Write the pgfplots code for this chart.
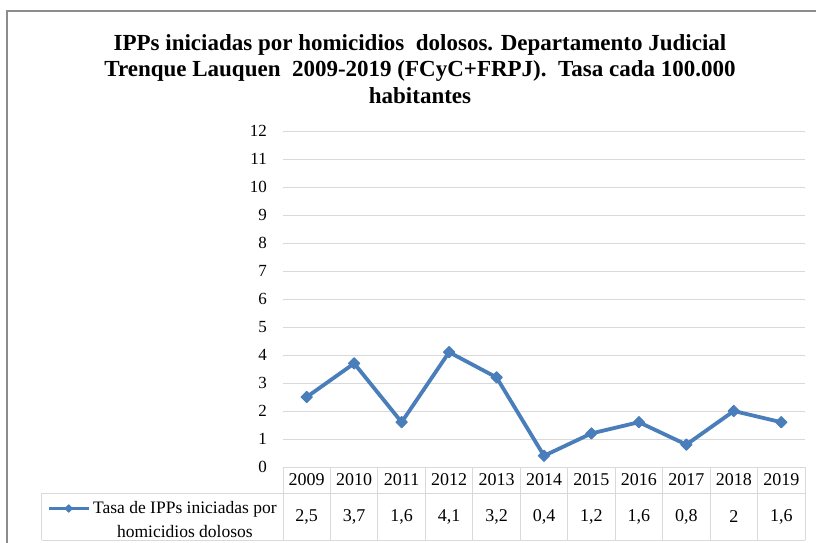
\documentclass[border=0pt]{standalone}
\usepackage{fontspec}
\setmainfont{Liberation Serif}
\usepackage{pgfplots}
\pgfplotsset{compat=1.18}
\definecolor{serie}{HTML}{4A7EBB}
\definecolor{gridc}{HTML}{D9D9D9}
\definecolor{borderc}{HTML}{8C8C8C}
\newcommand{\tabfont}{\fontsize{17}{20}\selectfont}
\newcommand{\valfont}{\fontsize{18}{20}\selectfont}
\begin{document}
\begin{tikzpicture}
\useasboundingbox (0,0) rectangle (816pt,-543pt);
\draw[borderc, line width=1.1pt] (7pt,-560pt) -- (7pt,-11pt) -- (830pt,-11pt);
\node[font=\bfseries\fontsize{23}{26.5}\selectfont, align=center, inner sep=0pt] at (420pt,-69pt)
 {IPPs iniciadas por homicidios\ \ dolosos. Departamento Judicial\\
  Trenque Lauquen\ \ 2009-2019 (FCyC+FRPJ).\ \ Tasa cada 100.000\\
  habitantes};
\begin{axis}[
  at={(283pt,-467pt)}, anchor=south west,
  scale only axis, width=522pt, height=336pt,
  xmin=-0.5, xmax=10.5, ymin=0, ymax=12,
  axis line style={draw=none},
  ytick={0,1,...,12}, xtick={0,1,...,10},
  xticklabels={2009,2010,2011,2012,2013,2014,2015,2016,2017,2018,2019},
  major tick length=0pt,
  ymajorgrids, grid style={gridc, line width=1pt},
  yticklabel style={font=\tabfont, anchor=east, inner sep=0pt, xshift=-16pt},
  xticklabel style={font=\valfont, anchor=center, inner sep=0pt, yshift=-13pt},
  /pgf/number format/assume math mode=true,
  clip=false,
  legend style={at={(axis cs:-5.474,-1.911)}, anchor=west, draw=none, fill=none,
    inner sep=0pt, nodes={inner sep=0pt}, font=\fontsize{17.5}{24}\selectfont,
    cells={align=center}, column sep=3pt},
  legend image code/.code={%
    \draw[#1, line width=3pt, mark=none] (0pt,12pt) -- (40pt,12pt);
    \draw[#1, mark size=2.6pt] plot coordinates {(20pt,12pt)};},
]
\addplot[serie, line width=3.8pt, line join=round, mark=square*, mark size=4.0pt,
  mark options={rotate=45, line width=1pt}]
  coordinates {(0,2.5)(1,3.7)(2,1.6)(3,4.1)(4,3.2)(5,0.4)(6,1.2)(7,1.6)(8,0.8)(9,2)(10,1.6)};
\addlegendentry{Tasa de IPPs iniciadas por\\homicidios dolosos}
% data table grid
\draw[gridc, line width=1pt] (axis cs:-0.5,0) -- (axis cs:10.5,0);
\draw[gridc, line width=1pt] (axis cs:-5.579,-0.929) -- (axis cs:10.5,-0.929);
\draw[gridc, line width=1pt] (axis cs:-5.579,-2.607) -- (axis cs:10.5,-2.607);
\draw[gridc, line width=1pt] (axis cs:-5.579,-0.929) -- (axis cs:-5.579,-2.607);
\pgfplotsinvokeforeach{-0.5,0.5,1.5,2.5,3.5,4.5,5.5,6.5,7.5,8.5,9.5,10.5}{
  \draw[gridc, line width=1pt] (axis cs:#1,0) -- (axis cs:#1,-2.607);
}
\node[font=\valfont] at (axis cs:0,-1.768) {2,5};
\node[font=\valfont] at (axis cs:1,-1.768) {3,7};
\node[font=\valfont] at (axis cs:2,-1.768) {1,6};
\node[font=\valfont] at (axis cs:3,-1.768) {4,1};
\node[font=\valfont] at (axis cs:4,-1.768) {3,2};
\node[font=\valfont] at (axis cs:5,-1.768) {0,4};
\node[font=\valfont] at (axis cs:6,-1.768) {1,2};
\node[font=\valfont] at (axis cs:7,-1.768) {1,6};
\node[font=\valfont] at (axis cs:8,-1.768) {0,8};
\node[font=\valfont] at (axis cs:9,-1.768) {2};
\node[font=\valfont] at (axis cs:10,-1.768) {1,6};
\end{axis}
\end{tikzpicture}
\end{document}
